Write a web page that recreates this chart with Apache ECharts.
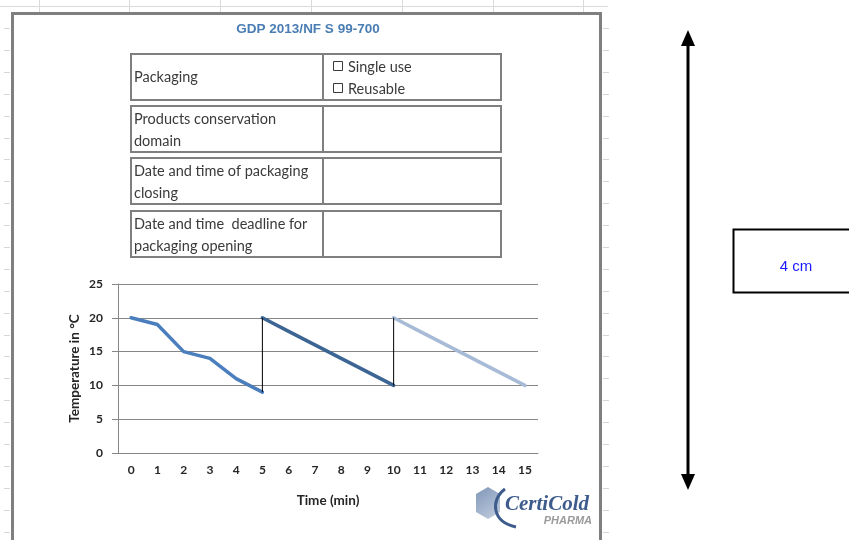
<!DOCTYPE html>
<html>
<head>
<meta charset="utf-8">
<title>GDP 2013/NF S 99-700</title>
<script src="https://cdn.jsdelivr.net/npm/echarts@6/dist/echarts.min.js"></script>
<style>
  html, body { margin: 0; padding: 0; background: #ffffff; }
  #chart { width: 849px; height: 540px; }
</style>
</head>
<body>
<div id="chart"></div>
<script>
// Time axis (minutes) and temperature ticks
const timeLabels = ['0', '1', '2', '3', '4', '5', '6', '7', '8', '9', '10', '11', '12', '13', '14', '15'];
const tempTicks = [0, 5, 10, 15, 20, 25];

// Temperature (°C) for each cold-chain cycle
const firstCycle = [20, 19, 15, 14, 11, 9];    // minutes 0-5
const secondCycle = [20, 18, 16, 14, 12, 10];  // minutes 5-10
const thirdCycle = [20, 18, 16, 14, 12, 10];   // minutes 10-15
const cycleStarts = [0, 5, 10];

// Form rows printed above the chart
const formRows = [
  ['Packaging'],
  ['Products conservation', 'domain'],
  ['Date and time of packaging', 'closing'],
  ['Date and time  deadline for', 'packaging opening']
];
const packagingOptions = ['Single use', 'Reusable'];

// place a cycle on the full time axis
function placeCycle(values, start) {
  const out = timeLabels.map(() => null);
  values.forEach((v, i) => { out[start + i] = v; });
  return out;
}

// vertical reset segments at the end of each cycle
const cycles = [firstCycle, secondCycle, thirdCycle];
const resets = [];
for (let c = 1; c < cycles.length; c++) {
  const prev = cycles[c - 1];
  const t = timeLabels[cycleStarts[c]];
  resets.push([[t, prev[prev.length - 1]], [t, cycles[c][0]]]);
}

const textFont = 'Lato, "Open Sans", sans-serif';
const gray = '#7f7f7f';
const graphics = [];

// worksheet grid lines around the sheet
graphics.push({ type: 'line', shape: { x1: 0, y1: 6.5, x2: 608, y2: 6.5 }, style: { stroke: '#dadada', lineWidth: 1 }, silent: true });
[39, 129, 220, 311, 402, 493, 583].forEach(x => {
  graphics.push({ type: 'line', shape: { x1: x + 0.5, y1: 0, x2: x + 0.5, y2: 12 }, style: { stroke: '#dadada', lineWidth: 1 }, silent: true });
});
for (let y = 28; y < 540; y += 21.9) {
  const yy = Math.round(y) + 0.5;
  graphics.push({ type: 'line', shape: { x1: 4, y1: yy, x2: 10, y2: yy }, style: { stroke: '#d6d6d6', lineWidth: 1 }, silent: true });
  graphics.push({ type: 'line', shape: { x1: 603, y1: yy, x2: 609, y2: yy }, style: { stroke: '#d6d6d6', lineWidth: 1 }, silent: true });
}

// outer sheet frame
graphics.push({ type: 'rect', shape: { x: 12.5, y: 13.5, width: 588, height: 560 }, style: { fill: '#ffffff', stroke: gray, lineWidth: 3 }, z: 0, silent: true });

// heading
graphics.push({ type: 'text', x: 308, y: 29, style: { text: 'GDP 2013/NF S 99-700', fill: '#4a7db3', font: 'bold 13.5px "Liberation Sans Narrow", "Liberation Sans", Arial, sans-serif', textAlign: 'center', textVerticalAlign: 'middle' }, z: 5 });

// form boxes
const boxTops = [54, 106, 158, 211];
formRows.forEach((lines, i) => {
  const top = boxTops[i];
  graphics.push({ type: 'rect', shape: { x: 131, y: top, width: 370, height: 46 }, style: { fill: 'none', stroke: gray, lineWidth: 2 }, z: 5 });
  graphics.push({ type: 'line', shape: { x1: 323, y1: top, x2: 323, y2: top + 46 }, style: { stroke: gray, lineWidth: 2 }, z: 5 });
  if (lines.length === 1) {
    graphics.push({ type: 'text', x: 134, y: top + 23, style: { text: lines[0], fill: '#3a3a3a', font: '14.5px ' + textFont, textVerticalAlign: 'middle' }, z: 6 });
  } else {
    lines.forEach((ln, j) => {
      graphics.push({ type: 'text', x: 134, y: top + 13 + j * 22, style: { text: ln, fill: '#3a3a3a', font: '14.5px ' + textFont, textVerticalAlign: 'middle' }, z: 6 });
    });
  }
});
// check boxes in the packaging row
packagingOptions.forEach((opt, j) => {
  const cy = 67 + j * 22;
  graphics.push({ type: 'rect', shape: { x: 333.5, y: cy - 5.5, width: 9, height: 9 }, style: { fill: 'none', stroke: '#3a3a3a', lineWidth: 1 }, z: 6 });
  graphics.push({ type: 'text', x: 348, y: cy, style: { text: opt, fill: '#3a3a3a', font: '14.5px ' + textFont, textVerticalAlign: 'middle' }, z: 6 });
});

// logo
graphics.push({ type: 'polygon', shape: { points: [[488, 487], [500, 494], [500, 512], [488, 519], [476, 512], [476, 494]] },
  style: { fill: new echarts.graphic.LinearGradient(0, 0, 1, 1, [{ offset: 0, color: '#7f96b8' }, { offset: 1, color: '#c3cee0' }]) }, z: 6 });
graphics.push({ type: 'bezierCurve', shape: { x1: 505, y1: 489, cpx1: 490, cpy1: 500, cpx2: 492, cpy2: 522, x2: 516, y2: 527 },
  style: { stroke: '#3d5c8c', lineWidth: 3, fill: 'none' }, z: 7 });
graphics.push({ type: 'text', x: 505, y: 505, style: { text: 'CertiCold', fill: '#3d5c8c', font: 'italic bold 21px "Liberation Serif", "DejaVu Serif", serif', textVerticalAlign: 'middle' }, z: 7 });
graphics.push({ type: 'text', x: 592, y: 521, style: { text: 'PHARMA', fill: '#9a9a9a', font: 'italic bold 11px "Liberation Sans", Arial, sans-serif', textAlign: 'right', textVerticalAlign: 'middle' }, z: 7 });

// size indicator on the right
graphics.push({ type: 'line', shape: { x1: 688, y1: 44, x2: 688, y2: 476 }, style: { stroke: '#000', lineWidth: 3 }, z: 5 });
graphics.push({ type: 'polygon', shape: { points: [[688, 30], [681, 46], [695, 46]] }, style: { fill: '#000' }, z: 5 });
graphics.push({ type: 'polygon', shape: { points: [[688, 490], [681, 474], [695, 474]] }, style: { fill: '#000' }, z: 5 });
graphics.push({ type: 'rect', shape: { x: 733.5, y: 229.5, width: 130, height: 63 }, style: { fill: '#fff', stroke: '#000', lineWidth: 2 }, z: 5 });
graphics.push({ type: 'text', x: 796, y: 267, style: { text: '4 cm', fill: '#1a1aff', font: '15px "Liberation Sans", Arial, sans-serif', textAlign: 'center', textVerticalAlign: 'middle' }, z: 6 });

const axisFont = { fontFamily: textFont, fontWeight: 'bold', fontSize: 12, color: '#262626' };

const chart = echarts.init(document.getElementById('chart'), null, { renderer: 'canvas' });
chart.setOption({
  animation: false,
  backgroundColor: '#ffffff',
  graphic: graphics,
  grid: { left: 118, right: 311, top: 284, bottom: 87, containLabel: false, z: 10 },
  xAxis: {
    type: 'category',
    data: timeLabels,
    boundaryGap: true,
    name: 'Time (min)',
    nameLocation: 'middle',
    nameGap: 41,
    nameTextStyle: Object.assign({}, axisFont, { fontSize: 13.5 }),
    axisLine: { lineStyle: { color: '#868686', width: 1 } },
    axisTick: { show: false },
    axisLabel: Object.assign({ margin: 11, interval: 0 }, axisFont),
    splitLine: { show: false },
    z: 10
  },
  yAxis: {
    type: 'value',
    min: tempTicks[0],
    max: tempTicks[tempTicks.length - 1],
    interval: tempTicks[1] - tempTicks[0],
    name: 'Temperature in °C',
    nameLocation: 'middle',
    nameRotate: 90,
    nameGap: 36,
    nameTextStyle: Object.assign({}, axisFont, { fontSize: 13.5 }),
    axisLine: { show: true, lineStyle: { color: '#868686', width: 1 } },
    axisTick: { show: true, length: 6, lineStyle: { color: '#868686' } },
    axisLabel: Object.assign({ margin: 15 }, axisFont),
    splitLine: { lineStyle: { color: '#868686', width: 1 } },
    z: 10
  },
  series: [
    {
      type: 'line', data: placeCycle(firstCycle, cycleStarts[0]), symbol: 'none', connectNulls: false,
      lineStyle: { color: '#4a7ebd', width: 3.5, cap: 'round', join: 'round' }, z: 12
    },
    {
      type: 'line', data: placeCycle(secondCycle, cycleStarts[1]), symbol: 'none',
      lineStyle: { color: '#3c6594', width: 3.5, cap: 'round', join: 'round' }, z: 12
    },
    {
      type: 'line', data: placeCycle(thirdCycle, cycleStarts[2]), symbol: 'none',
      lineStyle: { color: '#a7bbd7', width: 3.5, cap: 'round', join: 'round' }, z: 12
    }
  ].concat(resets.map(seg => ({
    type: 'line', data: seg, symbol: 'none',
    lineStyle: { color: '#000000', width: 1 }, z: 13
  })))
});
</script>
</body>
</html>
